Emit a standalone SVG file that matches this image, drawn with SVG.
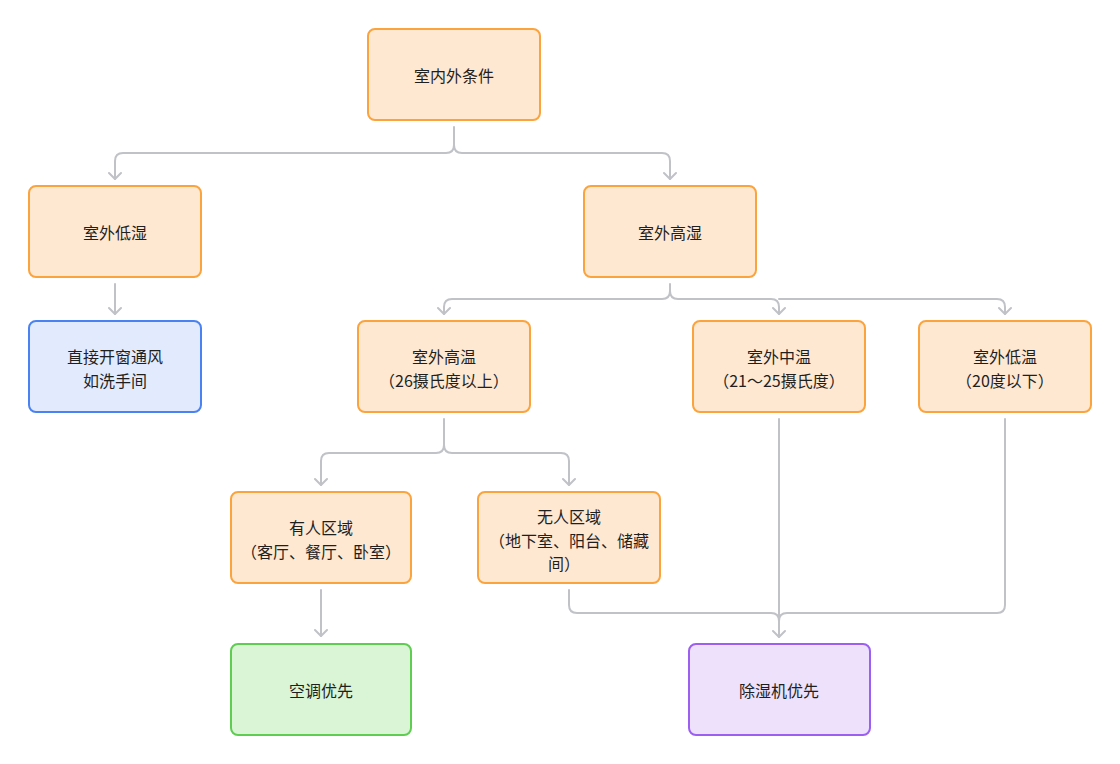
<svg xmlns="http://www.w3.org/2000/svg" width="1120" height="764" viewBox="0 0 1120 764">
<style>
.n rect{stroke-width:2}
.o rect{fill:#fee8d2;stroke:#fba33d}
.b rect{fill:#e2ebfd;stroke:#4b82f1}
.g rect{fill:#d9f5d5;stroke:#5fcd52}
.p rect{fill:#ede1fc;stroke:#9b5ff1}
text{font-family:"Noto Sans CJK SC","Noto Sans",sans-serif;font-size:16px;fill:#1f1f1f;text-anchor:middle}
.c path{fill:none;stroke:#c0c2c7;stroke-width:2;stroke-linejoin:round;stroke-linecap:round}
</style>
<rect width="1120" height="764" fill="#fff"/>
<g class="c" id="connectors">
<path d="M454 127V145Q454 153 446 153H123Q115 153 115 161V179"/>
<path d="M454 145Q454 153 462 153H662Q670 153 670 161V179"/>
<path d="M115 284V314"/>
<path d="M670 284V291Q670 299 662 299H452Q444 299 444 307V314"/>
<path d="M670 291Q670 299 678 299H771Q779 299 779 307V314"/>
<path d="M779 299H997Q1005 299 1005 307V314"/>
<path d="M444 419V445Q444 453 436 453H329Q321 453 321 461V485"/>
<path d="M444 445Q444 453 452 453H561Q569 453 569 461V485"/>
<path d="M321 590V636"/>
<path d="M569 590V605Q569 613 577 613H771Q779 613 779 621"/>
<path d="M779 419V637"/>
<path d="M1005 419V605Q1005 613 997 613H787Q779 613 779 621"/>
<path d="M109 173L115 179L121 173M664 173L670 179L676 173M109 308L115 314L121 308M438 308L444 314L450 308M773 308L779 314L785 308M999 308L1005 314L1011 308M315 479L321 485L327 479M563 479L569 485L575 479M315 630L321 636L327 630M773 631L779 637L785 631"/>
</g>
<g id="n1" class="n o"><rect x="368" y="29" width="172" height="91" rx="7"/><text x="454" y="82">室内外条件</text></g>
<g id="n2" class="n o"><rect x="29" y="186" width="172" height="91" rx="7"/><text x="115" y="239">室外低湿</text></g>
<g id="n3" class="n o"><rect x="584" y="186" width="172" height="91" rx="7"/><text x="670" y="239">室外高湿</text></g>
<g id="n4" class="n b"><rect x="29" y="321" width="172" height="91" rx="7"/><text x="115" y="363">直接开窗通风</text><text x="115" y="387">如洗手间</text></g>
<g id="n5" class="n o"><rect x="358" y="321" width="172" height="91" rx="7"/><text x="444" y="363">室外高温</text><text x="444" y="387">（26摄氏度以上）</text></g>
<g id="n6" class="n o"><rect x="693" y="321" width="172" height="91" rx="7"/><text x="779" y="363">室外中温</text><text x="779" y="387">（21～25摄氏度）</text></g>
<g id="n7" class="n o"><rect x="919" y="321" width="172" height="91" rx="7"/><text x="1005" y="363">室外低温</text><text x="1005" y="387">（20度以下）</text></g>
<g id="n8" class="n o"><rect x="231" y="492" width="180" height="91" rx="7"/><text x="321" y="534">有人区域</text><text x="321" y="558">（客厅、餐厅、卧室）</text></g>
<g id="n9" class="n o"><rect x="478" y="492" width="182" height="91" rx="7"/><text x="569" y="523">无人区域</text><text x="569" y="547">（地下室、阳台、储藏</text><text x="564" y="570">间）</text></g>
<g id="n10" class="n g"><rect x="231" y="644" width="180" height="91" rx="7"/><text x="321" y="697">空调优先</text></g>
<g id="n11" class="n p"><rect x="689" y="644" width="181" height="91" rx="7"/><text x="779" y="697">除湿机优先</text></g>
</svg>
